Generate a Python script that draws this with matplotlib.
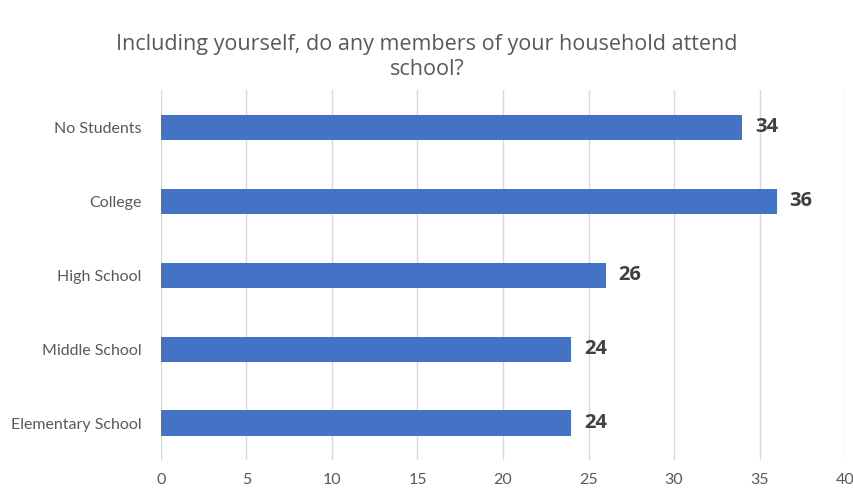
import matplotlib.pyplot as plt

categories = ["No Students", "College", "High School", "Middle School", "Elementary School"]
values = [34, 36, 26, 24, 24]
x_ticks = [0, 5, 10, 15, 20, 25, 30, 35, 40]
title = "Including yourself, do any members of your household attend\nschool?"

fig = plt.figure(figsize=(8.54, 4.95), dpi=100)
ax = fig.add_axes([0.1885, 0.0707, 0.801, 0.747])

ypos = list(range(len(categories)))[::-1]
bars = ax.barh(ypos, values, height=0.34, color="#4472C4", zorder=3)

for y, v in zip(ypos, values):
    ax.text(v + 0.75, y, str(v), va="center", ha="left", fontsize=14.5,
            fontweight="bold", color="#404040", family="Open Sans")

ax.set_xlim(0, 40)
ax.set_ylim(-0.5, 4.5)
ax.set_xticks(x_ticks)
ax.set_yticks(ypos)
ax.set_yticklabels(categories)
ax.tick_params(axis="both", length=0, colors="#595959", labelsize=11.5)
ax.tick_params(axis="x", pad=9)
ax.tick_params(axis="y", pad=14)
for lbl in ax.get_xticklabels() + ax.get_yticklabels():
    lbl.set_family("Lato")
ax.grid(axis="x", color="#D9D9D9", linewidth=1, zorder=0)
for s in ax.spines.values():
    s.set_visible(False)

fig.text(0.5, 0.884, title, ha="center", va="center", fontsize=15.5,
         color="#595959", family="Open Sans", linespacing=1.25)

fig.savefig("out.png", dpi=100)
